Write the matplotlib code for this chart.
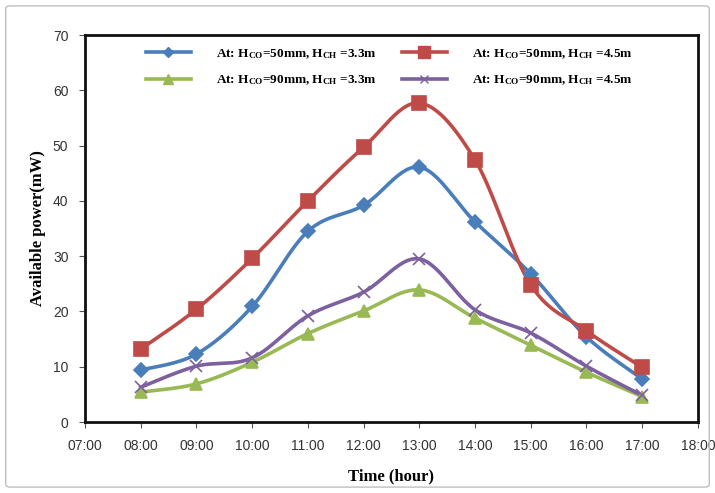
import numpy as np
import matplotlib
matplotlib.use("Agg")
from matplotlib import pyplot as plt
from matplotlib.patches import FancyBboxPatch

# Datos
horas = [8, 9, 10, 11, 12, 13, 14, 15, 16, 17]
tick_horas = list(range(7, 19))
tick_labels = [f"{h:02d}:00" for h in tick_horas]

co50_ch33 = [9.4, 12.3, 20.9, 34.5, 39.2, 46.1, 36.2, 26.8, 15.4, 7.8]
co50_ch45 = [13.2, 20.4, 29.6, 40.0, 49.7, 57.7, 47.4, 24.8, 16.5, 9.9]
co90_ch33 = [5.4, 6.9, 10.8, 16.0, 20.1, 23.9, 18.8, 13.9, 9.0, 4.6]
co90_ch45 = [6.3, 10.1, 11.6, 19.2, 23.5, 29.5, 20.3, 16.1, 10.1, 4.8]

etiquetas = [r"At: H$_{\mathrm{CO}}$=50mm, H$_{\mathrm{CH}}$ =3.3m",
             r"At: H$_{\mathrm{CO}}$=50mm, H$_{\mathrm{CH}}$ =4.5m",
             r"At: H$_{\mathrm{CO}}$=90mm, H$_{\mathrm{CH}}$ =3.3m",
             r"At: H$_{\mathrm{CO}}$=90mm, H$_{\mathrm{CH}}$ =4.5m"]

plt.rcParams['mathtext.fontset'] = 'custom'
plt.rcParams['mathtext.rm'] = 'Liberation Serif:bold'
plt.rcParams['mathtext.it'] = 'Liberation Serif:bold'
plt.rcParams['mathtext.bf'] = 'Liberation Serif:bold'


#* Curva suavizada tipo Excel (Bezier con puntos de control 1/6)
def suavizar(x, y, n=30):
    x = np.asarray(x, float)
    y = np.asarray(y, float)
    p = np.column_stack([x, y])
    pts = np.vstack([p[0], p, p[-1]])
    out = []
    t = np.linspace(0, 1, n)[:, None]
    for i in range(1, len(pts) - 2):
        p0, p3 = pts[i], pts[i + 1]
        c1 = p0 + (pts[i + 1] - pts[i - 1]) / 6
        c2 = p3 - (pts[i + 2] - pts[i]) / 6
        seg = ((1 - t) ** 3) * p0 + 3 * ((1 - t) ** 2) * t * c1 + 3 * (1 - t) * t ** 2 * c2 + t ** 3 * p3
        out.append(seg)
    out = np.vstack(out)
    return out[:, 0], out[:, 1]


fig = plt.figure(figsize=(7.15, 4.93), dpi=100)
fig.patches.append(FancyBboxPatch((0.008, 0.012), 0.984, 0.976, boxstyle="round,pad=0,rounding_size=0.006",
                                  transform=fig.transFigure, fc="none", ec="#bfbfbf", lw=1.0))
ax = fig.add_axes([0.119, 0.144, 0.857, 0.785])

series = [
    (co50_ch33, "#4A7EBB", "D", 7, etiquetas[0]),
    (co50_ch45, "#BE4B48", "s", 10, etiquetas[1]),
    (co90_ch33, "#98B954", "^", 9, etiquetas[2]),
    (co90_ch45, "#7D60A0", "x", 8, etiquetas[3]),
]
handles = {}
for vals, color, mk, ms, lab in series:
    xs, ys = suavizar(horas, vals)
    ax.plot(xs, ys, color=color, lw=2.6, zorder=2)
    ax.plot(horas, vals, ls="none", marker=mk, ms=ms, color=color, mew=1.2, zorder=3)
    h, = ax.plot([], [], color=color, lw=2.6, marker=mk, ms=ms * 0.8, mew=1.0)
    handles[lab] = h

#* Leyenda en dos columnas
orden = [etiquetas[0], etiquetas[2], etiquetas[1], etiquetas[3]]
leg = ax.legend([handles[k] for k in orden], orden, ncol=2, loc="upper left",
                bbox_to_anchor=(0.08, 1.0), frameon=False, numpoints=1,
                handlelength=3.4, columnspacing=1.9, handletextpad=1.9,
                labelspacing=1.0, prop={"family": "Liberation Serif", "weight": "bold", "size": 9.5})

ax.set_xlim(7, 18)
ax.set_ylim(0, 70)
ax.set_xticks(tick_horas)
ax.set_xticklabels(tick_labels)
ax.set_yticks(range(0, 71, 10))
for lab in ax.get_xticklabels() + ax.get_yticklabels():
    lab.set_fontfamily("Liberation Sans")
    lab.set_fontsize(10)
    lab.set_color("#333333")
ax.tick_params(direction="out", length=4, width=0.8, color="#555555", pad=8)
for s in ax.spines.values():
    s.set_linewidth(2)
    s.set_color("#111111")

ax.set_xlabel("Time (hour)", family="Liberation Serif", weight="bold", size=12, labelpad=11)
ax.set_ylabel("Available power(mW)", family="Liberation Serif", weight="bold", size=12, labelpad=5)

fig.savefig("out.png", dpi=100)
